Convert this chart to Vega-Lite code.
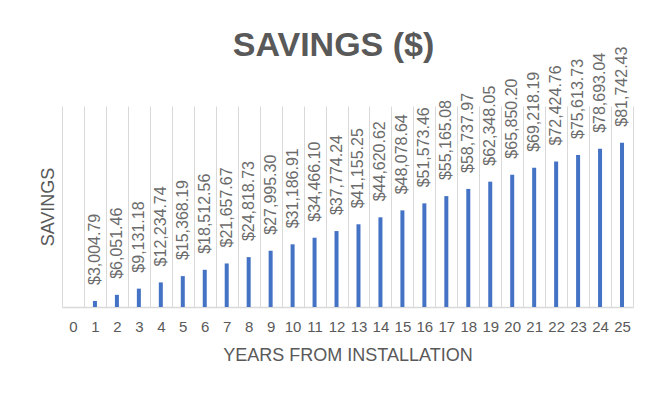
{
  "$schema": "https://vega.github.io/schema/vega-lite/v6.json",
  "autosize": {"type": "none"},
  "width": 571,
  "height": 201,
  "padding": {"left": 62, "top": 106, "right": 18, "bottom": 93},
  "background": "white",
  "title": {
    "text": "SAVINGS ($)",
    "font": "Liberation Sans",
    "fontSize": 34,
    "fontWeight": "bold",
    "color": "#595959",
    "anchor": "middle",
    "baseline": "bottom",
    "offset": -50,
    "dx": -14
  },
  "data": {
    "values": [
      {"year": 0, "savings": 0},
      {"year": 1, "savings": 3004.79},
      {"year": 2, "savings": 6051.46},
      {"year": 3, "savings": 9131.18},
      {"year": 4, "savings": 12234.74},
      {"year": 5, "savings": 15368.19},
      {"year": 6, "savings": 18512.56},
      {"year": 7, "savings": 21657.67},
      {"year": 8, "savings": 24818.73},
      {"year": 9, "savings": 27995.30},
      {"year": 10, "savings": 31186.91},
      {"year": 11, "savings": 34466.10},
      {"year": 12, "savings": 37774.24},
      {"year": 13, "savings": 41155.25},
      {"year": 14, "savings": 44620.62},
      {"year": 15, "savings": 48078.64},
      {"year": 16, "savings": 51573.46},
      {"year": 17, "savings": 55165.08},
      {"year": 18, "savings": 58737.97},
      {"year": 19, "savings": 62348.05},
      {"year": 20, "savings": 65850.20},
      {"year": 21, "savings": 69218.19},
      {"year": 22, "savings": 72424.76},
      {"year": 23, "savings": 75613.73},
      {"year": 24, "savings": 78693.04},
      {"year": 25, "savings": 81742.43}
    ]
  },
  "encoding": {
    "x": {
      "field": "year",
      "type": "ordinal",
      "sort": null,
      "scale": {"paddingInner": 0, "paddingOuter": 0},
      "axis": {
        "title": "YEARS FROM INSTALLATION",
        "labelAngle": 0,
        "tickBand": "extent",
        "grid": true,
        "gridColor": "#d9d9d9",
        "gridWidth": 1,
        "ticks": false,
        "domain": true,
        "domainColor": "#d9d9d9",
        "domainWidth": 1.5,
        "labelFont": "Liberation Sans",
        "labelFontSize": 15,
        "labelColor": "#595959",
        "labelPadding": 12,
        "titleFont": "Liberation Sans",
        "titleFontSize": 18,
        "titleFontWeight": "normal",
        "titleColor": "#595959",
        "titlePadding": 12
      }
    },
    "y": {
      "field": "savings",
      "type": "quantitative",
      "scale": {"domain": [0, 100000], "nice": false},
      "axis": {
        "title": "SAVINGS",
        "labels": false,
        "ticks": false,
        "domain": false,
        "grid": false,
        "titleFont": "Liberation Sans",
        "titleFontSize": 18,
        "titleFontWeight": "normal",
        "titleColor": "#595959",
        "titlePadding": 5
      }
    }
  },
  "layer": [
    {
      "mark": {"type": "bar", "width": 4, "color": "#4472C4"}
    },
    {
      "transform": [{"filter": "datum.savings > 0"}],
      "mark": {
        "type": "text",
        "angle": -90,
        "align": "left",
        "baseline": "middle",
        "dx": 16,
        "font": "Liberation Sans",
        "fontSize": 16,
        "color": "#6b6b6b"
      },
      "encoding": {
        "text": {"field": "savings", "type": "quantitative", "format": "$,.2f"}
      }
    }
  ],
  "config": {
    "view": {"stroke": null}
  }
}
